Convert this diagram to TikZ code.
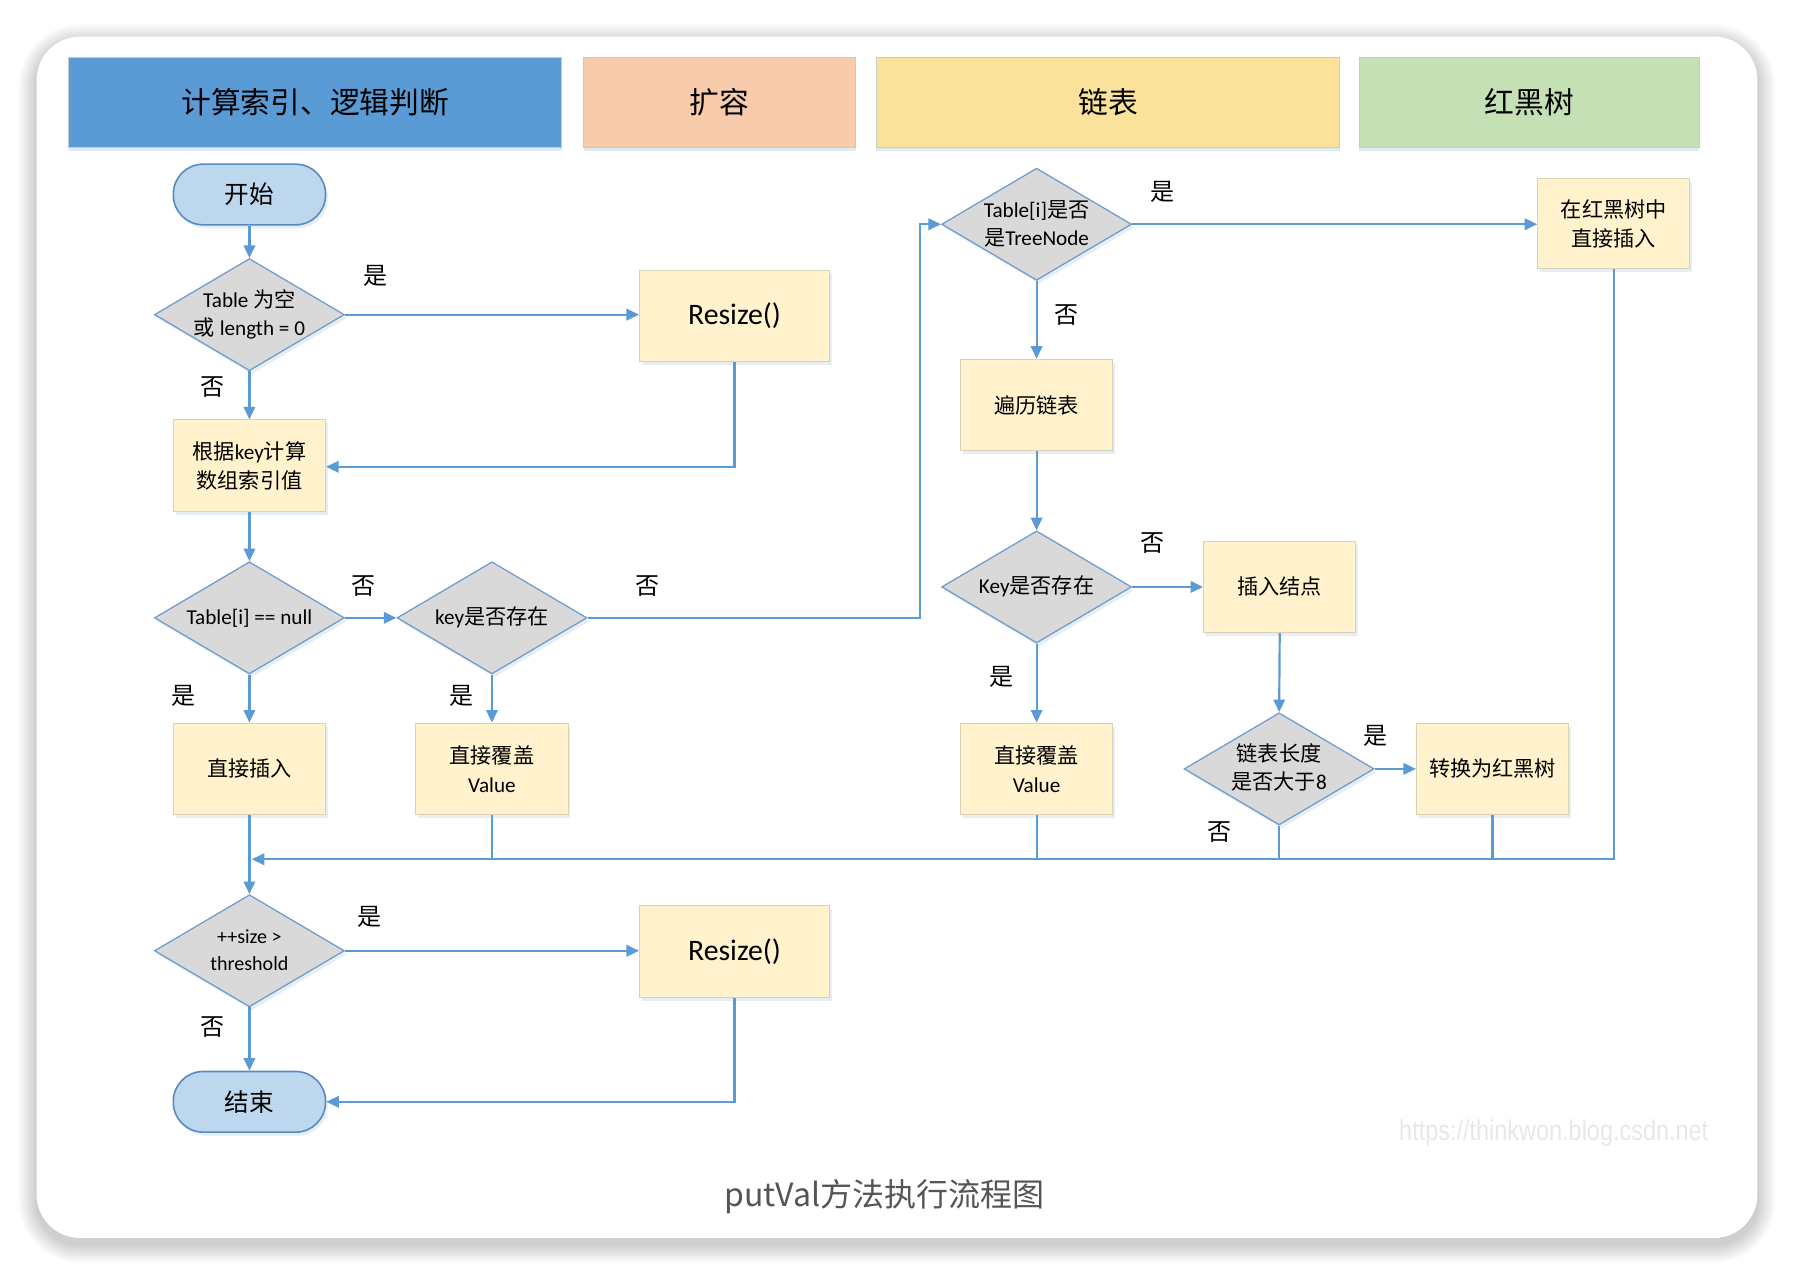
\documentclass[tikz,border=0pt]{standalone}
\usepackage{fontspec}
\setmainfont{Carlito}
\newfontfamily\cjk{Noto Sans CJK SC}
\newfontfamily\arialf{Liberation Sans}
\usetikzlibrary{shapes.geometric,arrows.meta,shadows}
\definecolor{lineblue}{HTML}{5B9BD5}
\definecolor{hdrblue}{HTML}{5B9BD5}
\definecolor{hdrsalmon}{HTML}{F8CBAD}
\definecolor{hdryellow}{HTML}{FBE29B}
\definecolor{hdrgreen}{HTML}{C5E0B4}
\definecolor{hdrborder}{HTML}{C9C9C9}
\definecolor{boxfill}{HTML}{FFF2CC}
\definecolor{boxborder}{HTML}{D9D2B9}
\definecolor{diafill}{HTML}{D9D9D9}
\definecolor{diaborder}{HTML}{6F9BCC}
\definecolor{termfill}{HTML}{BDD7EE}
\definecolor{termborder}{HTML}{5A8AC2}
\definecolor{shadowblue}{HTML}{A9C4E0}
\definecolor{captiongray}{HTML}{555555}
\definecolor{wmgray}{HTML}{E8E8E8}
\newcommand\zh[1]{{\cjk #1}}
\newcommand\ctext[1]{\makebox[0pt]{\raisebox{-0.3em}[0pt][0pt]{\begin{tabular}{@{}c@{}}#1\end{tabular}}}}
\begin{document}
\begin{tikzpicture}[x=1pt,y=-1pt,
  hdr/.style={rectangle, draw=hdrborder, line width=0.8pt, minimum height=79pt, inner sep=0pt,
    font=\cjk\fontsize{26}{30}\selectfont,
    drop shadow={fill=shadowblue, opacity=0.35, shadow xshift=0pt, shadow yshift=-3pt}},
  procbox/.style={rectangle, draw=boxborder, line width=0.9pt, fill=boxfill, minimum width=133pt,
    minimum height=80pt, inner sep=0pt, align=center, font=\fontsize{18.5}{25}\selectfont,
    drop shadow={fill=shadowblue, opacity=0.3, shadow xshift=2pt, shadow yshift=-3pt}},
  bigbox/.style={procbox, minimum width=166pt, font=\fontsize{26}{30}\selectfont},
  decision/.style={diamond, draw=diaborder, line width=1.1pt, fill=diafill, minimum width=166pt,
    minimum height=98pt, inner sep=0pt, font=\fontsize{18.5}{24.5}\selectfont,
    drop shadow={fill=shadowblue, opacity=0.3, shadow xshift=2pt, shadow yshift=-3pt}},
  terminal/.style={rectangle, rounded corners=26pt, draw=termborder, line width=1.4pt, fill=termfill,
    minimum width=133pt, minimum height=53pt, inner sep=0pt, font=\cjk\fontsize{21.5}{24}\selectfont,
    drop shadow={fill=shadowblue, opacity=0.3, shadow xshift=2pt, shadow yshift=-3pt}},
  conn/.style={draw=lineblue, line width=1.9pt},
  arr/.style={conn, -{Triangle[length=11pt,width=10pt]}},
  lbl/.style={font=\cjk\fontsize{21}{24}\selectfont, inner sep=0pt}
]
\useasboundingbox (0,0) rectangle (1568,1113.5);
\fill[white] (0,0) rectangle (1568,1113.5);
% card shadow
\foreach \i in {1,...,16}{
  \fill[black, opacity=0.011, rounded corners=38pt+\i pt] (32-\i,32-\i+5) rectangle (1536+\i,1082+\i+6);
}
\fill[white, rounded corners=38pt] (32,32) rectangle (1536,1082);

% headers
\node[hdr, fill=hdrblue, minimum width=431pt] (h1) at (275.5,89.5) {计算索引、逻辑判断};
\node[hdr, fill=hdrsalmon, minimum width=238pt] (h2) at (629,89.5) {扩容};
\node[hdr, fill=hdryellow, minimum width=405pt] (h3) at (968.5,89.5) {链表};
\node[hdr, fill=hdrgreen, minimum width=297pt] (h4) at (1336.5,89.5) {红黑树};

% flow nodes
\node[terminal] (start) at (218,170) {开始};
\node[decision] (d1) at (218,275) {\ctext{Table \zh{为空}\\\zh{或} length = 0}};
\node[bigbox] (r1) at (642,276) {Resize()};
\node[procbox] (calc) at (218,407) {\zh{根据}key\zh{计算}\\\zh{数组索引值}};
\node[decision] (d2) at (218,540) {\ctext{Table[i] == null}};
\node[decision] (d3) at (430,540) {\ctext{key\zh{是否存在}}};
\node[procbox] (ins) at (218,672) {\zh{直接插入}};
\node[procbox] (ov1) at (430,672) {\zh{直接覆盖}\\Value};
\node[decision] (tn) at (906,196) {\ctext{Table[i]\zh{是否}\\\zh{是}TreeNode}};
\node[procbox, minimum height=79pt] (rbi) at (1410.5,195.5) {\zh{在红黑树中}\\\zh{直接插入}};
\node[procbox] (trav) at (906,354) {\zh{遍历链表}};
\node[decision] (kx) at (906,513) {\ctext{Key\zh{是否存在}}};
\node[procbox] (ipt) at (1118.5,513) {\zh{插入结点}};
\node[procbox] (ov2) at (906,672) {\zh{直接覆盖}\\Value};
\node[decision] (ll) at (1118,672) {\ctext{\zh{链表长度}\\\zh{是否大于}8}};
\node[procbox] (conv) at (1304.5,672) {\zh{转换为红黑树}};
\node[decision, font=\fontsize{17.5}{23.5}\selectfont] (sz) at (218,831) {\ctext{++size >\\threshold}};
\node[bigbox] (r2) at (642,831.5) {Resize()};
\node[terminal] (end) at (218,963) {结束};

% junction coordinates
\coordinate (jx) at (804,196);
\coordinate (mj) at (218,751);
\coordinate (jr1) at (642,408);
\coordinate (jr2) at (642,963);

% connectors
\draw[arr] (start) -- (d1);
\draw[arr] (d1) -- (r1.west |- d1.east);
\draw[arr] (d1) -- (calc);
\draw[arr] (r1.south) -- (jr1) -- (calc.east |- jr1);
\draw[arr] (calc) -- (d2);
\draw[arr] (d2) -- (d3);
\draw[arr] (d2) -- (ins);
\draw[arr] (d3) -- (ov1);
\draw[arr] (d3.east) -| (jx) -- (tn.west);
\draw[arr] (tn.east) -- (rbi.west |- tn.east);
\draw[arr] (tn) -- (trav);
\draw[arr] (trav) -- (kx);
\draw[arr] (kx) -- (ipt);
\draw[arr] (kx) -- (ov2);
\draw[arr] (ipt.south) -- (ll.north);
\draw[arr] (ll.east) -- (conv.west |- ll.east);
\draw[conn] (ll.south) -- (ll.south |- mj);
\draw[conn] (conv.south) -- (conv.south |- mj);
\draw[conn] (ov2.south) -- (ov2.south |- mj);
\draw[conn] (ov1.south) -- (ov1.south |- mj);
\draw[arr, shorten >=-1pt] (rbi.south) |- ([xshift=3pt]mj);
\draw[arr] (ins) -- (sz);
\draw[arr] (sz) -- (r2.west |- sz.east);
\draw[arr] (sz) -- (end);
\draw[arr] (r2.south) -- (jr2) -- (end.east);

% labels
\node[lbl] (l1) at (328,241) {是};
\node[lbl] (l2) at (186,338) {否};
\node[lbl] (l3) at (318,512) {否};
\node[lbl] (l4) at (160,608) {是};
\node[lbl] (l5) at (403,608) {是};
\node[lbl] (l6) at (566,512) {否};
\node[lbl] (l7) at (1016,168) {是};
\node[lbl] (l8) at (932,275) {否};
\node[lbl] (l9) at (1007,475) {否};
\node[lbl] (l10) at (875,592) {是};
\node[lbl] (l11) at (1202,643) {是};
\node[lbl] (l12) at (1066,727) {否};
\node[lbl] (l13) at (323,801) {是};
\node[lbl] (l14) at (186,898) {否};

% watermark and caption
\node[font=\arialf\fontsize{25}{30}\selectfont, text=wmgray, xscale=0.82] (wm) at (1358,990) {https://thinkwon.blog.csdn.net};
\node[font=\cjk\fontsize{28}{32}\selectfont, text=captiongray] (cap) at (773,1046) {putVal方法执行流程图};
\end{tikzpicture}
\end{document}
